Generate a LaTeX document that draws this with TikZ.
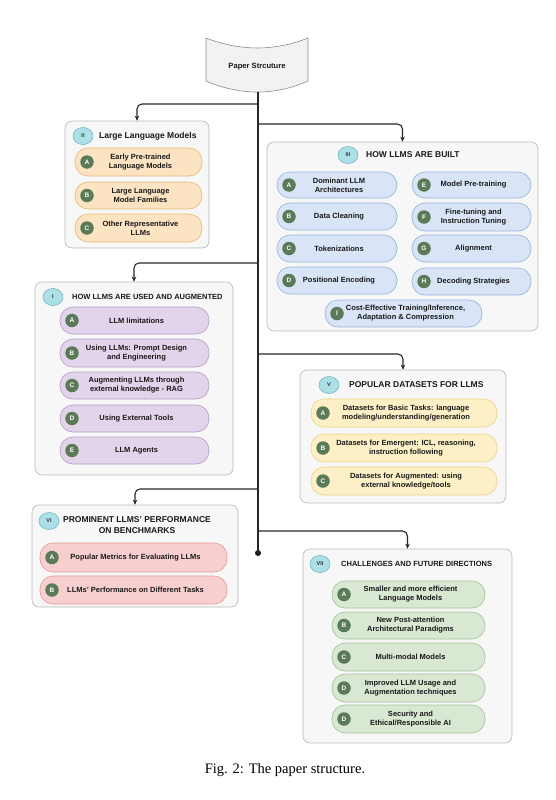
\documentclass[tikz,border=0pt]{standalone}
\usepackage{fontspec}
\setmainfont{Liberation Sans}
\newfontfamily\capfont{Liberation Serif}
\usetikzlibrary{arrows.meta,shapes.geometric}
\definecolor{boxfill}{HTML}{F7F7F7}
\definecolor{boxline}{HTML}{B8B8B8}
\definecolor{lgreen}{HTML}{5B7B58}
\definecolor{tcyan}{HTML}{ACDFE6}
\definecolor{tcline}{HTML}{72B8C2}
\definecolor{oF}{HTML}{FCE3C2}\definecolor{oD}{HTML}{E9B877}
\definecolor{bF}{HTML}{D9E5F7}\definecolor{bD}{HTML}{93B0DA}
\definecolor{pF}{HTML}{E2D4EA}\definecolor{pD}{HTML}{B59CC7}
\definecolor{yF}{HTML}{FDF0C6}\definecolor{yD}{HTML}{EDD38A}
\definecolor{rF}{HTML}{F8CFCF}\definecolor{rD}{HTML}{E39A9A}
\definecolor{gF}{HTML}{D8E8D2}\definecolor{gD}{HTML}{A2C497}
\tikzset{
 secbox/.style={draw=boxline, fill=boxfill, rounded corners=7pt, line width=0.6pt, inner sep=0pt},
 pillbox/.style={rounded corners=13pt, line width=0.6pt, inner sep=0pt},
 pO/.style={fill=oF, draw=oD}, pB/.style={fill=bF, draw=bD}, pP/.style={fill=pF, draw=pD},
 pY/.style={fill=yF, draw=yD}, pR/.style={fill=rF, draw=rD}, pG/.style={fill=gF, draw=gD},
 letc/.style={circle, fill=lgreen, text=white, font=\fontsize{6.5}{7}\bfseries\selectfont, minimum size=13.5pt, inner sep=0pt},
 numc/.style={ellipse, fill=tcyan, draw=tcline, line width=0.6pt, minimum width=20pt, minimum height=17pt, inner sep=0pt, font=\fontsize{5.5}{6}\bfseries\selectfont, text=black!80},
 itxt/.style={align=center, font=\fontsize{7.5}{9}\bfseries\selectfont, text=black!90, inner sep=0pt},
 ttl/.style={anchor=west, font=\fontsize{8.5}{10}\bfseries\selectfont, text=black!90, inner sep=0pt},
 ttls/.style={ttl, font=\fontsize{7.5}{9}\bfseries\selectfont},
 conn/.style={draw=black!85, line width=1.1pt, rounded corners=5pt, -{Stealth[length=5pt,width=4.5pt]}},
 enddot/.style={circle, fill=black!90, minimum size=6pt, inner sep=0pt},
}
\newcommand\mkbox[5]{%
 \node[secbox,minimum width={(#4-#2)*1pt},minimum height={(#5-#3)*1pt}] (#1) at ({(#2+#4)/2},{(#3+#5)/2}) {};}
\newcommand\mkpill[8]{%
 \node[pillbox,#8,minimum width={(#4-#2)*1pt},minimum height={(#5-#3)*1pt}] (#1) at ({(#2+#4)/2},{(#3+#5)/2}) {};
 \node[letc] (#1c) at ({#2+12},{(#3+#5)/2}) {#6};
 \node[itxt] (#1t) at ({(#2+#4)/2+2},{(#3+#5)/2}) {#7};}
\begin{document}
\begin{tikzpicture}[x=1pt,y=-1pt]
\useasboundingbox (0,0) rectangle (556,800);
% banner
\draw[fill=black!5, draw=black!45, line width=0.6pt] (206,38) .. controls (240,51.3) and (275,51.3) .. (308,38) -- (308,81) .. controls (275,95.7) and (240,95.7) .. (206,81) -- cycle;
\node[font=\fontsize{7.6}{9}\bfseries\selectfont, text=black!90] (ps) at (257,67) {Paper Strcuture};
\coordinate (psb) at (258,92);
\node[enddot] (dot) at (258,553) {};
\draw[draw=black!85, line width=1.1pt] (psb) -- (dot.center);
% boxes
\mkbox{boxII}{65}{121}{209}{248}
\mkbox{boxIII}{267}{142}{538}{331}
\mkbox{boxI}{35}{282}{233}{475}
\mkbox{boxV}{300}{370}{506}{503}
\mkbox{boxVI}{32}{505}{238}{607}
\mkbox{boxVII}{303}{549}{512}{743}
% connectors
\coordinate (j1) at (258,104);
\coordinate (j2) at (258,124);
\coordinate (j3) at (258,263);
\coordinate (j4) at (258,354);
\coordinate (j5) at (258,489);
\coordinate (j6) at (258,531);
\draw[conn] (j1) -| (boxII.north);
\draw[conn] (j2) -| (boxIII.north);
\draw[conn] (j3) -| (boxI.north);
\draw[conn] (j4) -| (boxV.north);
\draw[conn] (j5) -| (boxVI.north);
\draw[conn] (j6) -| (boxVII.north);
% II
\node[numc] (nII) at (83,136) {II};
\node[ttl] (tII) at (99,136) {Large Language Models};
\mkpill{IIa}{75}{148}{202}{176}{A}{Early Pre-trained\\Language Models}{pO}
\mkpill{IIb}{75}{182}{202}{209}{B}{Large Language\\Model Families}{pO}
\mkpill{IIc}{75}{214}{202}{242}{C}{Other Representative\\LLMs}{pO}
% III
\node[numc] (nIII) at (348,155) {III};
\node[ttl] (tIII) at (366,155) {HOW LLMS ARE BUILT};
\mkpill{IIIa}{277}{172}{397}{198}{A}{Dominant LLM\\Architectures}{pB}
\mkpill{IIIb}{277}{203}{397}{230}{B}{Data Cleaning}{pB}
\mkpill{IIIc}{277}{235}{397}{262}{C}{Tokenizations}{pB}
\mkpill{IIId}{277}{267}{397}{294}{D}{Positional Encoding}{pB}
\mkpill{IIIe}{412}{172}{531}{198}{E}{Model Pre-training}{pB}
\mkpill{IIIf}{412}{203}{531}{231}{F}{Fine-tuning and\\Instruction Tuning}{pB}
\mkpill{IIIg}{412}{235}{531}{262}{G}{Alignment}{pB}
\mkpill{IIIh}{412}{268}{531}{295}{H}{Decoding Strategies}{pB}
\mkpill{IIIi}{325}{300}{482}{327}{I}{Cost-Effective Training/Inference,\\Adaptation \& Compression}{pB}
% I
\node[numc] (nI) at (53,297) {I};
\node[ttls] (tI) at (72,297) {HOW LLMS ARE USED AND AUGMENTED};
\mkpill{Ia}{60}{307}{209}{334}{A}{LLM limitations}{pP}
\mkpill{Ib}{60}{339}{209}{367}{B}{Using LLMs: Prompt Design\\and Engineering}{pP}
\mkpill{Ic}{60}{372}{209}{399}{C}{Augmenting LLMs through\\external knowledge - RAG}{pP}
\mkpill{Id}{60}{405}{209}{432}{D}{Using External Tools}{pP}
\mkpill{Ie}{60}{437}{209}{464}{E}{LLM Agents}{pP}
% V
\node[numc] (nV) at (329,385) {V};
\node[ttl] (tV) at (349,385) {POPULAR DATASETS FOR LLMS};
\mkpill{Va}{311}{399}{497}{427}{A}{Datasets for Basic Tasks: language\\modeling/understanding/generation}{pY}
\mkpill{Vb}{311}{434}{497}{462}{B}{Datasets for Emergent: ICL, reasoning,\\instruction following}{pY}
\mkpill{Vc}{311}{467}{497}{495}{C}{Datasets for Augmented: using\\external knowledge/tools}{pY}
% VI
\node[numc] (nVI) at (49,521) {VI};
\node[itxt, font=\fontsize{8.5}{11}\bfseries\selectfont] (tVI) at (137,525.5) {PROMINENT LLMS' PERFORMANCE\\ON BENCHMARKS};
\mkpill{VIa}{40}{543}{227}{572}{A}{Popular Metrics for Evaluating LLMs}{pR}
\mkpill{VIb}{40}{576}{227}{604}{B}{LLMs' Performance on Different Tasks}{pR}
% VII
\node[numc] (nVII) at (320,564) {VII};
\node[ttls] (tVII) at (341,564) {CHALLENGES AND FUTURE DIRECTIONS};
\mkpill{VIIa}{332}{581}{485}{608}{A}{Smaller and more efficient\\Language Models}{pG}
\mkpill{VIIb}{332}{612}{485}{639}{B}{New Post-attention\\Architectural Paradigms}{pG}
\mkpill{VIIc}{332}{643}{485}{671}{C}{Multi-modal Models}{pG}
\mkpill{VIId}{332}{674}{485}{702}{D}{Improved LLM Usage and\\Augmentation techniques}{pG}
\mkpill{VIIe}{332}{705}{485}{733}{D}{Security and\\Ethical/Responsible AI}{pG}
% caption
\node[font=\capfont\fontsize{14.5}{16}\selectfont] (cap) at (285,770) {Fig. 2: The paper structure.};
\end{tikzpicture}
\end{document}
